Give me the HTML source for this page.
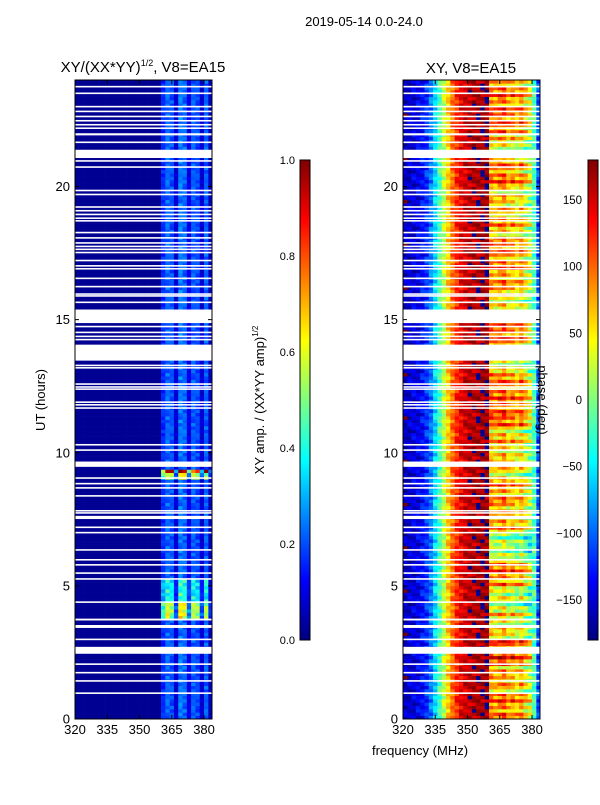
<!DOCTYPE html>
<html><head><meta charset="utf-8"><style>
body{margin:0;background:#fff;width:600px;height:800px;overflow:hidden;font-family:"Liberation Sans",sans-serif}
svg text{font-family:"Liberation Sans","DejaVu Sans",sans-serif}
</style></head><body>
<svg id="fig" width="600" height="800" viewBox="0 0 600 800" xmlns="http://www.w3.org/2000/svg">
<defs>
<linearGradient id="jet" x1="0" y1="1" x2="0" y2="0">
<stop offset="0" stop-color="#00007f"/><stop offset="0.125" stop-color="#0000ff"/><stop offset="0.375" stop-color="#00ffff"/><stop offset="0.625" stop-color="#ffff00"/><stop offset="0.875" stop-color="#ff0000"/><stop offset="1" stop-color="#7f0000"/>
</linearGradient>
</defs>
<text x="364" y="26" font-size="13" text-anchor="middle">2019-05-14 0.0-24.0</text>
<text x="143" y="72" font-size="15" text-anchor="middle">XY/(XX*YY)<tspan font-size="9" dy="-6">1/2</tspan><tspan dy="6">, V8=EA15</tspan></text>
<text x="471" y="73" font-size="15" text-anchor="middle">XY, V8=EA15</text>
<g id="left"></g>
<g id="right"></g>
<g id="axes"></g>
<text transform="translate(45,400) rotate(-90)" font-size="13" text-anchor="middle">UT (hours)</text>
<text x="420" y="755" font-size="13" text-anchor="middle">frequency (MHz)</text>
<rect x="300" y="160" width="10" height="480" fill="url(#jet)" stroke="#000" stroke-width="1"/>
<text transform="translate(264,400) rotate(-90)" font-size="13" text-anchor="middle">XY amp. / (XX*YY amp)<tspan font-size="8" dy="-6">1/2</tspan></text>
<rect x="588" y="160" width="10" height="480" fill="url(#jet)" stroke="#000" stroke-width="1"/>
<text transform="translate(538,400) rotate(90)" font-size="13" text-anchor="middle">phase (deg)</text>
</svg>
<script>
const timeTicks=[0,5,10,15,20];
const freqTicks=[320,335,350,365,380];
const ampTicks=[0.0,0.2,0.4,0.6,0.8,1.0];
const phaseTicks=[-150,-100,-50,0,50,100,150];
const freqBins=[320,322,324,326,328,330,332,334,336,338,340,342,344,346,348,350,352,354,356,358,360,362,364,366,368,370,372,374,376,378,380,382];
const ampByFreq=[0.02,0.02,0.02,0.02,0.02,0.02,0.02,0.02,0.02,0.02,0.02,0.02,0.02,0.02,0.02,0.02,0.02,0.02,0.02,0.02,0.16,0.22,0.2,0.08,0.24,0.22,0.1,0.21,0.19,0.08,0.21,0.06];
const phaseByFreq=[-160,-155,-150,-145,-135,-120,-95,-60,-20,20,60,95,120,140,150,158,162,165,168,170,110,100,110,120,90,100,80,100,70,50,-20,-110];
const phaseNoise=[0,15,-18,6,-9,24,-3,12,-21,3,18,-12,9];
const rfiPhaseShift=[-20,-40,0,-60,-80,-20,-100,-40,-30,-60,-50,-10,-20,-70,-10,-60,-30,-20,-40,-50,-20,-60,-10,-20];
const ampBoost=[[3.8,4.4,2.6],[4.4,5.2,1.8],[9.2,9.35,4.2],[8.95,9.2,2.6]];
const gaps=[[23.72,23.78],[23.47,23.53],[22.97,23.03],[22.79,22.85],[22.6,22.66],[22.44,22.5],[22.29,22.35],[22.16,22.22],[21.92,22.0],[21.63,21.69],[21.07,21.38],[20.93,20.99],[20.7,20.76],[19.82,19.88],[19.67,19.73],[19.2,19.26],[19.06,19.12],[18.92,18.98],[18.78,18.84],[18.68,18.74],[18.24,18.3],[18.04,18.1],[17.85,17.91],[17.72,17.78],[17.61,17.67],[17.49,17.55],[17.19,17.25],[16.99,17.05],[16.88,16.94],[16.52,16.58],[16.21,16.27],[15.93,15.99],[15.86,15.92],[15.62,15.68],[14.87,15.38],[14.71,14.77],[14.49,14.55],[14.34,14.4],[14.22,14.28],[13.46,14.06],[13.25,13.31],[13.16,13.22],[12.55,12.61],[12.44,12.5],[12.36,12.42],[11.87,11.93],[11.77,11.83],[11.65,11.71],[10.27,10.33],[10.07,10.13],[9.47,9.67],[9.02,9.08],[8.81,8.87],[8.65,8.71],[8.35,8.41],[7.79,7.85],[7.71,7.77],[7.51,7.63],[7.17,7.23],[6.97,7.03],[6.32,6.38],[5.95,6.01],[5.76,5.82],[5.45,5.51],[5.23,5.29],[4.36,4.42],[3.7,3.77],[3.42,3.53],[2.96,3.02],[2.45,2.71],[2.03,2.09],[1.71,1.77],[1.4,1.46],[0.94,1.0]];

const NS='http://www.w3.org/2000/svg';
const panels=[{x0:75,x1:212,g:'left'},{x0:403,x1:540,g:'right'}];
const fMin=320,fMax=383.7,tMin=0,tMax=24,yTop=80,yBot=719;
function xs(p,f){return p.x0+(f-fMin)/(fMax-fMin)*(p.x1-p.x0);}
function ys(t){return yBot-(t-tMin)/(tMax-tMin)*(yBot-yTop);}
function jet(v){v=Math.max(0,Math.min(1,v));
 const st=[[0,0,0,127],[0.125,0,0,255],[0.375,0,255,255],[0.625,255,255,0],[0.875,255,0,0],[1,127,0,0]];
 for(let i=1;i<st.length;i++){if(v<=st[i][0]){const a=st[i-1],b=st[i],k=(v-a[0])/(b[0]-a[0]);
  return 'rgb('+[1,2,3].map(j=>Math.round(a[j]+(b[j]-a[j])*k)).join(',')+')';}}
 return 'rgb(127,0,0)';}
function mk(tag,attrs,parent){const e=document.createElementNS(NS,tag);for(const k in attrs)e.setAttribute(k,attrs[k]);parent.appendChild(e);return e;}
const rowStep=0.125, nRows=Math.round(24/rowStep);
const L=document.getElementById('left'), R=document.getElementById('right');
for(let r=0;r<nRows;r++){
 const t0=r*rowStep,t1=t0+rowStep,tm=t0+rowStep/2;
 let boost=1;ampBoost.forEach(b=>{if(tm>=b[0]&&tm<b[1])boost=b[2];});
 for(let c=0;c<freqBins.length;c++){
  const f0=freqBins[c],f1=c+1<freqBins.length?freqBins[c+1]:fMax;
  let a=ampByFreq[c]; if(a>0.05)a=a*boost*(1+phaseNoise[(r*3+c)%13]/120);
  const la=mk('rect',{x:xs(panels[0],f0),y:ys(t1),width:xs(panels[0],f1)-xs(panels[0],f0)+0.3,height:ys(t0)-ys(t1)+0.3,fill:jet(a)},L);
  
  
  let ph=phaseByFreq[c]+phaseNoise[(r*5+c*7)%13];
  if(c>=20&&c<30)ph+=rfiPhaseShift[Math.floor(tm)]+phaseNoise[r%13]*2;
  while(ph>180)ph-=360;while(ph<-180)ph+=360;
  const pc=mk('rect',{x:xs(panels[1],f0),y:ys(t1),width:xs(panels[1],f1)-xs(panels[1],f0)+0.3,height:ys(t0)-ys(t1)+0.3,fill:jet((ph+180)/360)},R);
  
  
 }
}
panels.forEach(p=>{gaps.forEach(g=>{
 const gr=mk('rect',{x:p.x0,y:ys(g[1]),width:p.x1-p.x0,height:Math.max(1.4,ys(g[0])-ys(g[1])),fill:'#fff'},document.getElementById(p.g));
 
 
});});
const A=document.getElementById('axes');
panels.forEach((p,i)=>{
 const fr=mk('rect',{x:p.x0,y:yTop,width:p.x1-p.x0,height:yBot-yTop,fill:'none',stroke:'#000','stroke-width':1},A);
 
 
 timeTicks.forEach(t=>{const y=ys(t);
  mk('line',{x1:p.x0,x2:p.x0+4,y1:y,y2:y,stroke:'#000'},A);mk('line',{x1:p.x1,x2:p.x1-4,y1:y,y2:y,stroke:'#000'},A);
  const tl=mk('text',{x:p.x0-5,y:y+4.5,'font-size':13,'text-anchor':'end'},A);tl.textContent=t;
  
  });
 freqTicks.forEach(f=>{const x=xs(p,f);
  mk('line',{x1:x,x2:x,y1:yBot,y2:yBot-4,stroke:'#000'},A);mk('line',{x1:x,x2:x,y1:yTop,y2:yTop+4,stroke:'#000'},A);
  const tl=mk('text',{x:x,y:yBot+15,'font-size':13,'text-anchor':'middle'},A);tl.textContent=f;
  
  });
});
ampTicks.forEach(v=>{const y=640-v*480;
 mk('line',{x1:300,x2:304,y1:y,y2:y,stroke:'#000'},A);mk('line',{x1:310,x2:306,y1:y,y2:y,stroke:'#000'},A);
 const tl=mk('text',{x:295,y:y+4,'font-size':11,'text-anchor':'end'},A);tl.textContent=v.toFixed(1);
 
 });
phaseTicks.forEach(v=>{const y=400-v*480/360;
 mk('line',{x1:588,x2:592,y1:y,y2:y,stroke:'#000'},A);mk('line',{x1:598,x2:594,y1:y,y2:y,stroke:'#000'},A);
 const tl=mk('text',{x:582,y:y+4,'font-size':11.5,'text-anchor':'end'},A);tl.textContent=v<0?'\u2212'+(-v):v;
 
 });
</script>
</body></html>
